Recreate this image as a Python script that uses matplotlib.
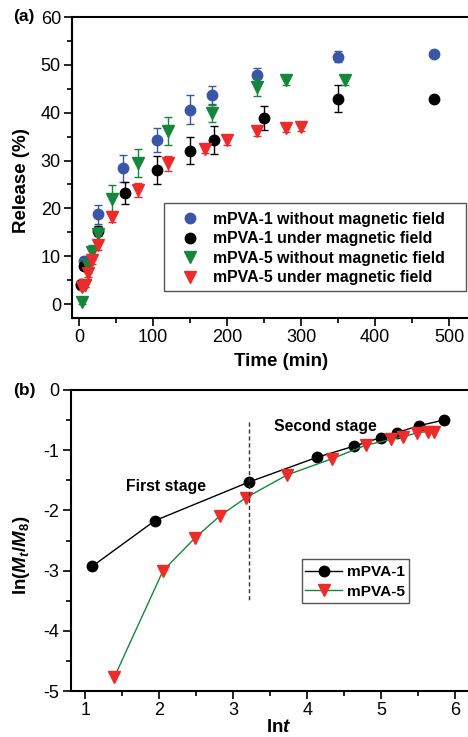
import matplotlib
matplotlib.use('Agg')
import matplotlib.pyplot as plt
from matplotlib.ticker import MultipleLocator
from matplotlib.patches import Rectangle

plt.rcParams['font.family'] = ['Liberation Sans', 'DejaVu Sans']
plt.rcParams['axes.unicode_minus'] = False
plt.rcParams['mathtext.fontset'] = 'custom'
plt.rcParams['mathtext.rm'] = 'Liberation Sans'
plt.rcParams['mathtext.it'] = 'Liberation Sans:italic'
plt.rcParams['mathtext.bf'] = 'Liberation Sans:bold'
plt.rcParams['mathtext.bfit'] = 'Liberation Sans:bold:italic'

# (a) release curves
t_blue = [3, 7, 25, 60, 105, 150, 180, 240, 350, 480]
rel_blue = [4.2, 9.0, 18.8, 28.4, 34.3, 40.6, 43.7, 47.8, 51.7, 52.2]
err_blue = [0.5, 0.8, 2.0, 2.8, 2.5, 3.0, 1.8, 1.5, 1.2, 0.4]

t_black = [3, 7, 25, 62, 105, 150, 182, 250, 350, 480]
rel_black = [4.0, 7.9, 15.3, 23.3, 28.0, 32.1, 34.3, 38.8, 42.9, 42.9]
err_black = [0.5, 0.6, 1.0, 2.3, 3.0, 2.8, 3.0, 2.5, 2.8, 0.0]

t_green = [4, 8, 12, 17, 25, 45, 80, 120, 180, 240, 280, 360]
rel_green = [0.5, 4.0, 8.0, 10.8, 14.7, 21.9, 29.5, 36.2, 39.9, 45.3, 46.8, 46.8]
err_green = [0.5, 0.5, 1.5, 1.5, 1.5, 3.0, 2.9, 3.0, 1.8, 1.8, 1.0, 1.0]

t_red = [4, 8, 12, 17, 25, 45, 80, 120, 170, 200, 240, 280, 300]
rel_red = [3.5, 4.0, 6.4, 9.2, 12.3, 18.3, 23.8, 29.4, 32.5, 34.2, 36.2, 36.9, 37.1]
err_red = [0.5, 0.5, 0.8, 0.8, 1.0, 1.2, 1.5, 1.5, 1.0, 1.0, 1.0, 1.0, 1.0]

labels_a = ['mPVA-1 without magnetic field', 'mPVA-1 under magnetic field',
            'mPVA-5 without magnetic field', 'mPVA-5 under magnetic field']

# (b) ln plot
lnt_1 = [1.09, 1.94, 3.21, 4.13, 4.64, 5.0, 5.21, 5.52, 5.85]
lnm_1 = [-2.93, -2.17, -1.53, -1.12, -0.93, -0.79, -0.71, -0.59, -0.50]
lnt_5 = [1.39, 2.05, 2.48, 2.82, 3.17, 3.73, 4.34, 4.79, 5.13, 5.30, 5.48, 5.64, 5.71]
lnm_5 = [-4.77, -3.0, -2.46, -2.09, -1.79, -1.41, -1.14, -0.92, -0.82, -0.78, -0.71, -0.69, -0.69]

blue = '#3a56a8'
green = '#14873c'
red = '#ee2b2b'

W, H = 468, 737
fig = plt.figure(figsize=(W / 100, H / 100), dpi=100)


def style(ax):
    for s in ax.spines.values():
        s.set_linewidth(1.5)
    ax.tick_params(which='both', direction='out', width=1.2, labelsize=13, pad=2)
    ax.tick_params(which='major', length=6)
    ax.tick_params(which='minor', length=3.5)
    ax.tick_params(top=False, right=False)


def frame_box(x0, y0, x1, y1):
    # legend frame drawn in pixel coords of the figure
    fig.patches.append(Rectangle((x0 / W, 1 - y1 / H), (x1 - x0) / W, (y1 - y0) / H,
                                 transform=fig.transFigure, fill=False,
                                 edgecolor='#555555', lw=1))


# ---- panel (a)
ax1 = fig.add_axes([72 / W, 1 - 318 / H, 0.87, 301 / H])
series = [(t_blue, rel_blue, err_blue, blue, 'o'),
          (t_black, rel_black, err_black, 'black', 'o'),
          (t_green, rel_green, err_green, green, 'v'),
          (t_red, rel_red, err_red, red, 'v')]
for (t, r, e, c, m), lab in zip(series, labels_a):
    ax1.errorbar(t, r, yerr=e, fmt='none', ecolor=c, elinewidth=1, capsize=3, capthick=1)
    ax1.plot(t, r, ls='none', marker=m, ms=7.5 if m == 'o' else 8.5, color=c, label=lab)
ax1.set_xlim(-9.5, 540.8)
ax1.set_ylim(-2.9, 60)
ax1.xaxis.set_major_locator(MultipleLocator(100))
ax1.xaxis.set_minor_locator(MultipleLocator(50))
ax1.yaxis.set_major_locator(MultipleLocator(10))
ax1.yaxis.set_minor_locator(MultipleLocator(5))
style(ax1)
ax1.set_xlabel('Time (min)', fontsize=13.5, fontweight='bold', va='center')
ax1.xaxis.set_label_coords((276 - 72) / 398, -43.7 / 301)
ax1.set_ylabel('Release (%)', fontsize=13.5, fontweight='bold', va='center')
ax1.yaxis.set_label_coords((23 - 72) / 398, (318 - 181) / 301)
ax1.legend(loc='upper left', bbox_to_anchor=(180.5 / W, 1 - 211.6 / H),
           bbox_transform=fig.transFigure, frameon=False,
           prop={'weight': 'bold', 'size': 11.4},
           handletextpad=0.85, labelspacing=0.29, borderpad=0,
           handlelength=1.2, borderaxespad=0)
frame_box(164, 203, 466, 291)
fig.text(13 / W, 1 - 17 / H, '(a)', fontsize=12.5, fontweight='bold', va='center')

# ---- panel (b)
ax2 = fig.add_axes([70.7 / W, 1 - 691 / H, 0.87, 301 / H])
ax2.plot(lnt_1, lnm_1, color='black', lw=1, marker='o', ms=7.5, label='mPVA-1')
ax2.plot(lnt_5, lnm_5, color=green, lw=1, marker='v', ms=8.5, mfc=red, mec=red, label='mPVA-5')
ax2.plot([3.21, 3.21], [-0.53, -3.51], color='#333333', lw=1, ls='--', dashes=(3, 2))
ax2.text(2.09, -1.61, 'First stage', fontsize=11.3, fontweight='bold', ha='center', va='center')
ax2.text(4.25, -0.6, 'Second stage', fontsize=11.3, fontweight='bold', ha='center', va='center')
ax2.set_xlim(0.8, 6.31)
ax2.set_ylim(-5, 0)
ax2.xaxis.set_major_locator(MultipleLocator(1))
ax2.xaxis.set_minor_locator(MultipleLocator(0.5))
ax2.yaxis.set_major_locator(MultipleLocator(1))
ax2.yaxis.set_minor_locator(MultipleLocator(0.5))
style(ax2)
ax2.set_xlabel(r'ln$\mathbfit{t}$', fontsize=13.5, fontweight='bold', va='center')
ax2.xaxis.set_label_coords((275 - 70.7) / 400.6, -37 / 301)
ax2.set_ylabel(r'ln($\mathbfit{M}_\mathbfit{t}$/$\mathbfit{M}_\mathbf{8}$)', fontsize=13.5,
               fontweight='bold', va='center')
ax2.yaxis.set_label_coords((22 - 70.7) / 400.6, (691 - 555) / 301)
ax2.legend(loc='upper left', bbox_to_anchor=(305 / W, 1 - 565.5 / H),
           bbox_transform=fig.transFigure, frameon=False,
           prop={'weight': 'bold', 'size': 11.1},
           handletextpad=0.33, labelspacing=0.34, borderpad=0,
           handlelength=2.4, borderaxespad=0)
frame_box(302, 559, 409, 603)
fig.text(13 / W, 1 - 390 / H, '(b)', fontsize=12.5, fontweight='bold', va='center')

fig.savefig('out.png', dpi=100)
